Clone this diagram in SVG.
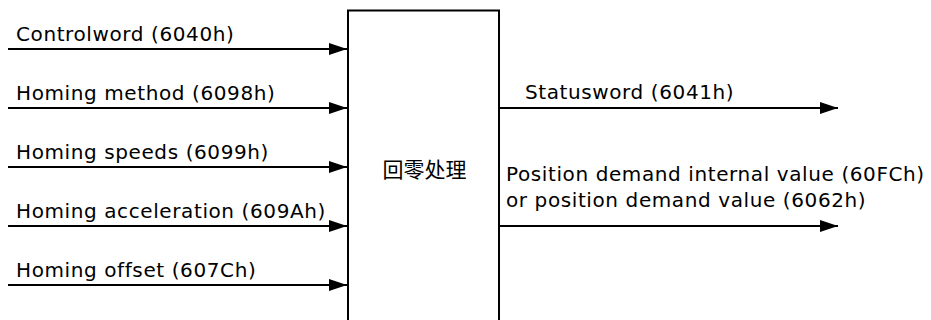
<svg xmlns="http://www.w3.org/2000/svg" width="931" height="320" viewBox="0 0 931 320">
<style>
.lbl{font-family:"DejaVu Sans","Verdana",sans-serif;font-size:20px;letter-spacing:0.6px;fill:#000}
.cjk{font-family:"Noto Sans CJK SC","Noto Sans",sans-serif;font-size:21px;fill:#000}
.wire{stroke:#000;stroke-width:2;fill:none}
.box{stroke:#000;stroke-width:2;fill:#fff}
</style>
<defs>
<marker id="arr" markerUnits="userSpaceOnUse" markerWidth="18" markerHeight="12" refX="18" refY="6" orient="auto">
<path d="M0,0 L18,6 L0,12 z" fill="#000"/>
</marker>
</defs>
<rect width="931" height="320" fill="#fff"/>
<g id="connectors">
<line class="wire" x1="8" y1="49" x2="347" y2="49" marker-end="url(#arr)"/>
<line class="wire" x1="8" y1="108" x2="347" y2="108" marker-end="url(#arr)"/>
<line class="wire" x1="8" y1="167" x2="347" y2="167" marker-end="url(#arr)"/>
<line class="wire" x1="8" y1="226" x2="347" y2="226" marker-end="url(#arr)"/>
<line class="wire" x1="8" y1="285" x2="347" y2="285" marker-end="url(#arr)"/>
<line class="wire" x1="499" y1="108" x2="838" y2="108" marker-end="url(#arr)"/>
<line class="wire" x1="499" y1="226" x2="838" y2="226" marker-end="url(#arr)"/>
</g>
<g id="labels">
<text class="lbl" x="16" y="41">Controlword (6040h)</text>
<text class="lbl" x="16" y="100">Homing method (6098h)</text>
<text class="lbl" x="16" y="159">Homing speeds (6099h)</text>
<text class="lbl" x="16" y="218">Homing acceleration (609Ah)</text>
<text class="lbl" x="16" y="277">Homing offset (607Ch)</text>
<text class="lbl" x="525" y="99">Statusword (6041h)</text>
<text class="lbl" x="506" y="181">Position demand internal value (60FCh)</text>
<text class="lbl" x="506" y="207">or position demand value (6062h)</text>
</g>
<g id="node-homing">
<rect class="box" x="348" y="10.5" width="151" height="320"/>
<text class="cjk" x="424.5" y="177" text-anchor="middle">回零处理</text>
</g>
</svg>
